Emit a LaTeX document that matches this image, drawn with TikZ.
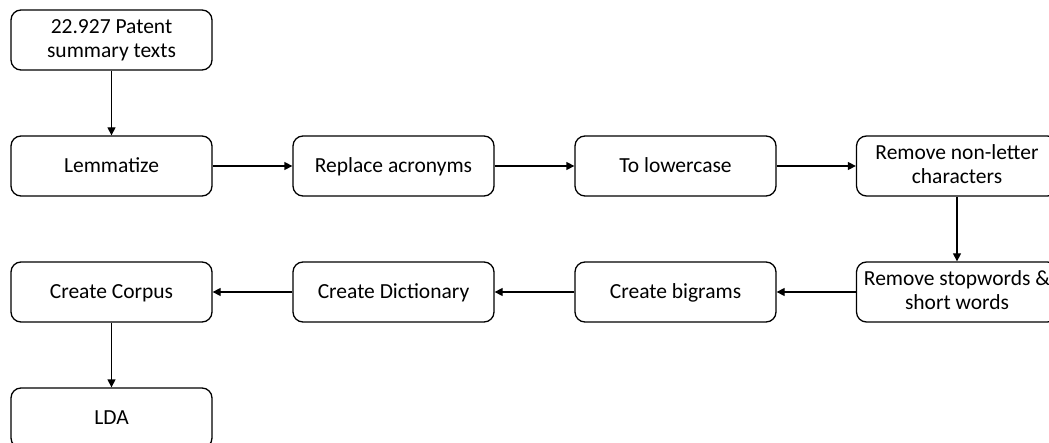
\documentclass[tikz,border=0pt]{standalone}
\usepackage{fontspec}
\setmainfont{Carlito}
\usetikzlibrary{arrows.meta}
\newcommand{\mystrut}{\rule[-5.6pt]{0pt}{24.6pt}}
\begin{document}
\begin{tikzpicture}[x=1pt,y=-1pt,
  procbox/.style={draw=black, line width=1.3pt, rounded corners=10pt, minimum width=201pt, minimum height=60pt, inner sep=0pt, align=center, font=\fontsize{21.5}{24.5}\selectfont, fill=white, execute at begin node=\mystrut, execute at end node=\mystrut},
  boxonly/.style={draw=black, line width=1.3pt, rounded corners=10pt, minimum width=201pt, minimum height=60pt, inner sep=0pt, fill=white},
  line/.style={anchor=base, inner sep=0pt, font=\fontsize{21.5}{24.5}\selectfont},
  flow/.style={draw=black, line width=1.3pt, -{Triangle[length=8pt,width=8pt]}}]
\useasboundingbox (0,0) rectangle (1049,443);
\node[boxonly] (src) at (111.5,40) {};
\node[line] (srcA) at (111.5,33.3) {22.927 Patent};
\node[line] (srcB) at (111.5,57.7) {summary texts};
\node[procbox] (lem) at (111.5,166) {Lemmatize};
\node[procbox] (acr) at (393.5,166) {Replace acronyms};
\node[procbox] (low) at (675.5,166) {To lowercase};
\node[boxonly] (nonl) at (957,166) {};
\node[line] (nonlA) at (957,159.3) {Remove non-letter};
\node[line] (nonlB) at (957,183.7) {characters};
\node[boxonly] (stop) at (957,292) {};
\node[line] (stopA) at (957,285.3) {Remove stopwords \&};
\node[line] (stopB) at (957,309.7) {short words};
\node[procbox] (big) at (675.5,292) {Create bigrams};
\node[procbox] (dict) at (393.5,292) {Create Dictionary};
\node[procbox] (corp) at (111.5,292) {Create Corpus};
\node[procbox] (lda) at (111.5,418) {LDA};
\draw[flow] (src) -- (lem);
\draw[flow] (lem) -- (acr);
\draw[flow] (acr) -- (low);
\draw[flow] (low) -- (nonl);
\draw[flow] (nonl) -- (stop);
\draw[flow] (stop) -- (big);
\draw[flow] (big) -- (dict);
\draw[flow] (dict) -- (corp);
\draw[flow] (corp) -- (lda);
\end{tikzpicture}
\end{document}
